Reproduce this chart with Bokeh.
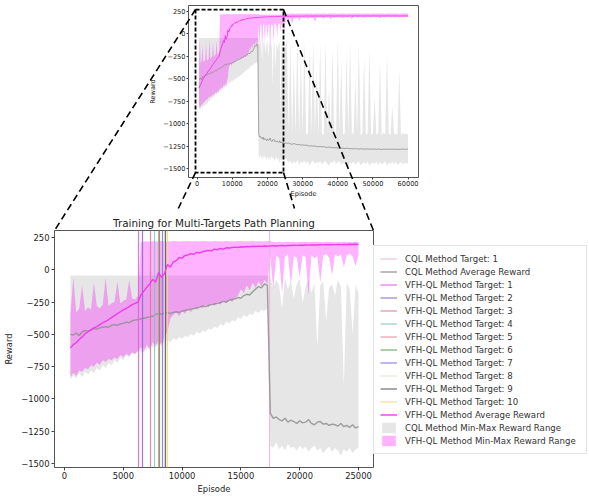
from bokeh.plotting import figure
from bokeh.models import Range1d, FixedTicker, Legend, LegendItem, BoxAnnotation
from bokeh.embed import file_html
from bokeh.resources import INLINE

# ---------------- data ----------------
episodes_main = list(range(500, 25001, 250))
episodes_tail = list(range(25500, 60001, 500))

cql_avg_main = [
    -500, -505, -490, -510, -480, -470, -475, -465, -455, -460,
    -450, -445, -440, -445, -430, -425, -430, -420, -415, -405,
    -410, -395, -390, -385, -380, -375, -370, -365, -360, -345,
    -340, -345, -335, -330, -340, -330, -325, -330, -320, -315,
    -310, -305, -300, -295, -290, -280, -285, -275, -270, -265,
    -260, -255, -245, -250, -235, -230, -225, -215, -220, -200,
    -190, -195, -170, -150, -130, -140, -110, -120, -1110, -1150,
    -1140, -1160, -1170, -1150, -1180, -1165, -1175, -1190, -1170, -1185,
    -1180, -1160, -1190, -1200, -1180, -1175, -1195, -1190, -1205, -1195,
    -1200, -1210, -1190, -1215, -1205, -1220, -1200, -1225, -1215]
cql_avg_tail = [
    -1220, -1215, -1225, -1230, -1222, -1228, -1235, -1230, -1240, -1236,
    -1242, -1238, -1245, -1250, -1246, -1252, -1248, -1255, -1258, -1252,
    -1260, -1256, -1262, -1265, -1260, -1268, -1264, -1270, -1266, -1272,
    -1270, -1275, -1272, -1278, -1274, -1276, -1280, -1277, -1282, -1278,
    -1280, -1284, -1279, -1283, -1281, -1285, -1280, -1286, -1282, -1284,
    -1283, -1287, -1282, -1285, -1288, -1284, -1286, -1283, -1287, -1285,
    -1286, -1283, -1288, -1284, -1287, -1285, -1282, -1286, -1284, -1283]

cql_min_main = [
    -850, -820, -840, -800, -830, -790, -810, -780, -800, -760,
    -780, -740, -760, -720, -740, -700, -720, -680, -700, -660,
    -680, -640, -660, -620, -640, -600, -620, -590, -600, -570,
    -590, -560, -570, -540, -560, -530, -545, -520, -535, -510,
    -520, -495, -510, -480, -495, -470, -480, -455, -465, -440,
    -450, -420, -435, -400, -415, -390, -400, -370, -380, -350,
    -365, -340, -350, -320, -335, -310, -320, -300, -1360, -1380,
    -1340, -1390, -1360, -1400, -1350, -1380, -1370, -1400, -1360, -1390,
    -1370, -1410, -1380, -1360, -1400, -1380, -1420, -1390, -1370, -1410,
    -1380, -1400, -1440, -1390, -1410, -1380, -1420, -1390, -1380]
cql_min_tail = [
    -1400, -1430, -1410, -1450, -1420, -1440, -1405, -1460, -1425, -1435,
    -1415, -1445, -1420, -1470, -1430, -1410, -1450, -1425, -1440, -1415,
    -1455, -1430, -1420, -1445, -1470, -1425, -1440, -1410, -1450, -1430,
    -1420, -1460, -1435, -1445, -1415, -1480, -1430, -1440, -1425, -1455,
    -1435, -1420, -1465, -1440, -1430, -1450, -1425, -1470, -1440, -1435,
    -1445, -1425, -1460, -1430, -1450, -1440, -1420, -1465, -1435, -1445,
    -1430, -1450, -1425, -1460, -1440, -1430, -1455, -1435, -1445, -1440]

cql_max_main = [
    -45, -45, -45, -45, -45, -45, -45, -45, -45, -45,
    -45, -45, -45, -45, -45, -45, -45, -45, -45, -45,
    -45, -45, -45, -45, -45, -45, -45, -45, -45, -45,
    -45, -45, -45, -45, -45, -45, -45, -45, -45, -45,
    -45, -45, -45, -45, -45, -45, -45, -45, -45, -45,
    -45, -45, -45, -45, -45, -45, -45, -45, -45, -45,
    -45, -45, -45, -45, -45, -45, -45, -45, -60, -140,
    -80, -120, -300, -60, -150, -90, -220, -110, -70, -260,
    -130, -80, -180, -100, -600, -120, -90, -400, -140, -110,
    -200, -80, -130, -900, -100, -150, -500, -120, -180]
cql_max_tail = [
    -60, -1100, -80, -1120, -300, -1110, -50, -1130, -200, -1100,
    -70, -1120, -1110, -150, -1130, -60, -1100, -400, -1120, -100,
    -1110, -1130, -80, -1100, -600, -1120, -150, -1110, -1130, -50,
    -1100, -300, -1120, -1110, -200, -1130, -70, -1100, -1120, -500,
    -1110, -100, -1130, -1100, -250, -1120, -1110, -150, -1130, -1100,
    -700, -1120, -1110, -300, -1130, -1100, -1120, -200, -1110, -1130,
    -800, -1100, -1120, -1110, -400, -1130, -1100, -1120, -1110, -1130]

vfh_avg_main = [
    -605, -580, -565, -540, -520, -495, -480, -465, -450, -440,
    -425, -410, -400, -385, -370, -355, -340, -325, -310, -300,
    -285, -270, -260, -250, -195, -165, -135, -110, -75, -95,
    -20, -60, -30, 40, 20, 60, 70, 95, 90, 110,
    115, 125, 120, 135, 130, 140, 145, 150, 145, 160,
    155, 165, 160, 170, 168, 172, 175, 172, 178, 176,
    180, 178, 182, 180, 183, 181, 184, 182, 185, 186,
    184, 187, 188, 186, 189, 188, 190, 189, 191, 190,
    192, 191, 192, 193, 192, 194, 193, 194, 195, 194,
    195, 196, 195, 196, 196, 197, 196, 197, 196]
vfh_avg_tail = [
    197, 198, 197, 198, 199, 198, 199, 198, 199, 199,
    199, 200, 199, 199, 200, 199, 200, 200, 199, 200,
    200, 199, 200, 200, 201, 200, 200, 199, 200, 201,
    200, 200, 201, 200, 199, 200, 201, 200, 200, 201,
    200, 201, 200, 200, 201, 200, 201, 200, 200, 201,
    201, 200, 201, 200, 200, 201, 200, 201, 201, 200,
    201, 200, 201, 201, 200, 201, 200, 201, 200, 201]

vfh_min_main = [
    -830, -800, -820, -780, -790, -760, -770, -740, -750, -720,
    -735, -700, -715, -690, -700, -680, -690, -660, -675, -650,
    -665, -640, -650, -630, -600, -640, -580, -620, -560, -600,
    -540, -590, -520, -480, -380, -350, -330, -360, -320, -340,
    -300, -330, -290, -310, -280, -300, -270, -290, -260, -280,
    -250, -270, -240, -260, -230, -250, -220, -200, -150, -180,
    -120, -160, -100, -140, -90, -130, -80, -110, 100, -150,
    110, 90, -180, 100, 120, -120, 105, 95, -60, 110,
    100, -200, 115, 90, 105, -100, 110, 120, 95, -40,
    115, 105, 120, 20, 110, 125, 100, 30, 115]
vfh_min_tail = [
    175, 160, 178, 120, 176, 170, 180, 150, 178, 182,
    176, 181, 165, 183, 179, 184, 140, 182, 185, 180,
    184, 170, 186, 183, 185, 160, 187, 184, 186, 185,
    183, 187, 175, 186, 188, 185, 187, 170, 186, 188,
    187, 185, 189, 186, 180, 188, 187, 189, 186, 188,
    189, 187, 188, 176, 189, 188, 187, 189, 188, 186,
    189, 188, 187, 189, 185, 188, 189, 187, 188, 189]

vfh_max_main = [
    -350, -60, -330, -300, -120, -320, -290, -310, -100, -280,
    -300, -270, -60, -280, -260, -250, -90, -260, -240, -230,
    -80, -220, -230, -200, 215, 218, 220, 217, 221, 219,
    220, 222, 218, 221, 219, 222, 220, 218, 221, 220,
    222, 219, 221, 220, 218, 222, 220, 221, 219, 222,
    220, 221, 219, 222, 220, 218, 221, 220, 222, 219,
    221, 220, 222, 219, 221, 220, 218, 222, 220, 215,
    214, 216, 213, 215, 217, 214, 216, 213, 215, 214,
    216, 213, 215, 214, 216, 215, 213, 216, 214, 215,
    213, 215, 214, 216, 213, 215, 214, 216, 214]
vfh_max_tail = [
    228, 226, 229, 227, 228, 226, 229, 228, 227, 229,
    226, 228, 227, 229, 228, 226, 228, 229, 227, 228,
    229, 227, 228, 226, 229, 228, 227, 229, 228, 226,
    228, 229, 227, 228, 226, 229, 228, 227, 229, 228,
    227, 228, 229, 226, 228, 227, 229, 228, 226, 228,
    229, 227, 228, 229, 227, 228, 226, 229, 228, 227,
    228, 229, 227, 228, 226, 229, 228, 227, 229, 228]

cql_target_episodes = [17450]
vfh_target_episodes = [6320, 6610, 7310, 7680, 8020, 8100, 8360, 8500, 8590, 8730]

zoom_x = [-480, 24560]
zoom_y = [-1545, 272]

main_x_ticks = [0, 5000, 10000, 15000, 20000, 25000]
inset_x_ticks = [0, 10000, 20000, 30000, 40000, 50000, 60000]
y_ticks = [250, 0, -250, -500, -750, -1000, -1250, -1500]
y_tick_labels = ["250", "0", "\u2212250", "\u2212500", "\u2212750", "\u22121000", "\u22121250", "\u22121500"]

title_text = "Training for Multi-Targets Path Planning"
x_label = "Episode"
y_label = "Reward"

# ---------------- styles / geometry ----------------
FONT = "DejaVu Sans"
CQL_LINE = "#8f8f8f"
VFH_LINE = "#ec3cec"
CQL_TARGET = "#eab8dc"
VFH_TARGETS = ["#e05ce0", "#8a63c9", "#d9779a", "#7fc4c2", "#f08a96",
               "#5b9c5b", "#7b70e6", "#e4e0c4", "#55556a", "#efdc6e"]

PAGE_W, PAGE_H = 589, 497
I_BL, I_BR, I_BT, I_BB = 188, 171, 5, 23
I_FW, I_FH = 230, 172
M_BL, M_BT, M_BB = 54, 30, 30
M_FW, M_FH = 319, 237
INSET_XR = (-2475, 62975)
INSET_YR = (-1600, 317)
MAIN_XR = (-850, 26275)
MAIN_YR = (-1531, 304)

INSET_HEIGHT = I_BT + I_FH + I_BB
I_L, I_T = I_BL, I_BT
M_L, M_T = M_BL, INSET_HEIGHT + M_BT


def inset_to_page(x, y):
    px = I_L + (x - INSET_XR[0]) / (INSET_XR[1] - INSET_XR[0]) * I_FW
    py = I_T + (INSET_YR[1] - y) / (INSET_YR[1] - INSET_YR[0]) * I_FH
    return px, py


def style(p, fs, lab_fs):
    p.grid.visible = False
    p.outline_line_color = "#555555"
    p.outline_line_width = 1
    for ax in p.axis:
        ax.axis_line_color = None
        ax.major_tick_in = 0
        ax.major_tick_out = 3
        ax.major_tick_line_color = "#444444"
        ax.minor_tick_line_color = None
        ax.major_label_text_font = FONT
        ax.major_label_text_font_size = fs
        ax.major_label_text_color = "#222222"
        ax.axis_label_text_font = FONT
        ax.axis_label_text_font_size = lab_fs
        ax.axis_label_text_font_style = "normal"
        ax.axis_label_text_color = "#222222"
        ax.major_label_standoff = 1
        ax.axis_label_standoff = 2


# ---------------- overview (top) ----------------
episodes_all = episodes_main + episodes_tail
inset = figure(frame_width=I_FW, frame_height=I_FH,
               x_range=Range1d(*INSET_XR), y_range=Range1d(*INSET_YR),
               min_border_left=I_BL, min_border_right=I_BR,
               min_border_top=I_BT, min_border_bottom=I_BB,
               output_backend="svg", toolbar_location=None)
inset.varea(x=episodes_all, y1=cql_min_main + cql_min_tail, y2=cql_max_main + cql_max_tail,
            fill_color="gray", fill_alpha=0.2)
inset.varea(x=episodes_all, y1=vfh_min_main + vfh_min_tail, y2=vfh_max_main + vfh_max_tail,
            fill_color="magenta", fill_alpha=0.3)
inset.line(episodes_all, cql_avg_main + cql_avg_tail, line_color=CQL_LINE, line_width=1, line_alpha=0.8)
inset.line(episodes_all, vfh_avg_main + vfh_avg_tail, line_color=VFH_LINE, line_width=1)
inset.xaxis.ticker = FixedTicker(ticks=inset_x_ticks)
inset.yaxis.ticker = FixedTicker(ticks=y_ticks)
inset.yaxis.major_label_overrides = dict(zip(y_ticks, y_tick_labels))
inset.xaxis.axis_label = x_label
inset.yaxis.axis_label = y_label
style(inset, "6.6px", "6.6px")
inset.axis.major_tick_out = 2
inset.xaxis.axis_label_standoff = 1
inset.yaxis.axis_label_standoff = 3
inset.add_layout(BoxAnnotation(left=zoom_x[0], right=zoom_x[1], bottom=zoom_y[0], top=zoom_y[1],
                               fill_alpha=0, line_color="black", line_alpha=1,
                               line_width=1.8, line_dash="4 2"))

# ---------------- main plot ----------------
main = figure(frame_width=M_FW, frame_height=M_FH,
              x_range=Range1d(*MAIN_XR), y_range=Range1d(*MAIN_YR),
              min_border_left=M_BL, min_border_right=0,
              min_border_top=M_BT, min_border_bottom=M_BB,
              output_backend="svg", toolbar_location=None)

r_cql_fill = main.varea(x=episodes_main, y1=cql_min_main, y2=cql_max_main,
                        fill_color="gray", fill_alpha=0.2)
r_vfh_fill = main.varea(x=episodes_main, y1=vfh_min_main, y2=vfh_max_main,
                        fill_color="magenta", fill_alpha=0.3)
r_cql_t = main.vspan(x=cql_target_episodes, line_color=CQL_TARGET, line_width=1.2, line_alpha=0.9)
r_cql_avg = main.line(episodes_main, cql_avg_main, line_color=CQL_LINE, line_width=1.4, line_alpha=0.85)
r_vfh_t = []
for ep, c in zip(vfh_target_episodes, VFH_TARGETS):
    r_vfh_t.append(main.vspan(x=[ep], line_color=c, line_width=1.2, line_alpha=0.85))
r_vfh_avg = main.line(episodes_main, vfh_avg_main, line_color=VFH_LINE, line_width=1.4)

main.xaxis.ticker = FixedTicker(ticks=main_x_ticks)
main.yaxis.ticker = FixedTicker(ticks=y_ticks)
main.yaxis.major_label_overrides = dict(zip(y_ticks, y_tick_labels))
main.xaxis.axis_label = x_label
main.yaxis.axis_label = y_label
style(main, "8.4px", "8.4px")
main.yaxis.major_label_standoff = 2
main.yaxis.axis_label_standoff = 4

main.title.text = title_text
main.title.align = "center"
main.title.text_font = FONT
main.title.text_font_size = "10.4px"
main.title.text_font_style = "normal"
main.title.text_color = "#222222"
main.title.standoff = 4

items = [LegendItem(label="CQL Method Target: 1", renderers=[r_cql_t]),
         LegendItem(label="CQL Method Average Reward", renderers=[r_cql_avg])]
for i, r in enumerate(r_vfh_t):
    items.append(LegendItem(label="VFH-QL Method Target: %d" % (i + 1), renderers=[r]))
items += [LegendItem(label="VFH-QL Method Average Reward", renderers=[r_vfh_avg]),
          LegendItem(label="CQL Method Min-Max Reward Range", renderers=[r_cql_fill]),
          LegendItem(label="VFH-QL Method Min-Max Reward Range", renderers=[r_vfh_fill])]
legend = Legend(items=items, location=(0, 13), margin=0, padding=6, spacing=0,
                glyph_width=17, glyph_height=13, label_height=13, label_width=175,
                label_standoff=8,
                label_text_font=FONT, label_text_font_size="8.6px", label_text_color="#333333",
                border_line_color="#c8c8c8", border_line_width=1, background_fill_color="white",
                background_fill_alpha=1)
main.add_layout(legend, "right")

# ---------------- zoom connectors (page overlay) ----------------
overlay = figure(width=PAGE_W, height=PAGE_H, x_range=Range1d(0, PAGE_W), y_range=Range1d(PAGE_H, 0),
                 min_border=0, x_axis_location=None, y_axis_location=None,
                 output_backend="svg", toolbar_location=None, margin=(-PAGE_H, 0, 0, 0))
overlay.grid.visible = False
overlay.outline_line_color = None
overlay.background_fill_alpha = 0
overlay.border_fill_alpha = 0

rect_tl = inset_to_page(zoom_x[0], zoom_y[1])
rect_tr = inset_to_page(zoom_x[1], zoom_y[1])
rect_bl = inset_to_page(zoom_x[0], zoom_y[0])
rect_br = inset_to_page(zoom_x[1], zoom_y[0])
main_tl = (M_L, M_T)
main_tr = (M_L + M_FW, M_T)
main_bl = (M_L, M_T + M_FH)
main_br = (M_L + M_FW, M_T + M_FH)
cut_y = INSET_HEIGHT + 8   # the lower connectors vanish behind the main plot


def cut(p0, p1, y):
    t = (y - p0[1]) / (p1[1] - p0[1])
    return (p0[0] + t * (p1[0] - p0[0]), y)


starts = [rect_tl, rect_tr, rect_bl, rect_br]
ends = [main_tl, main_tr, cut(rect_bl, main_bl, cut_y), cut(rect_br, main_br, cut_y)]
overlay.segment(x0=[s[0] for s in starts], y0=[s[1] for s in starts],
                x1=[e[0] for e in ends], y1=[e[1] for e in ends],
                line_color="black", line_width=1.6, line_dash="7 4")

open("out.html", "w").write(file_html([inset, main, overlay], INLINE))
